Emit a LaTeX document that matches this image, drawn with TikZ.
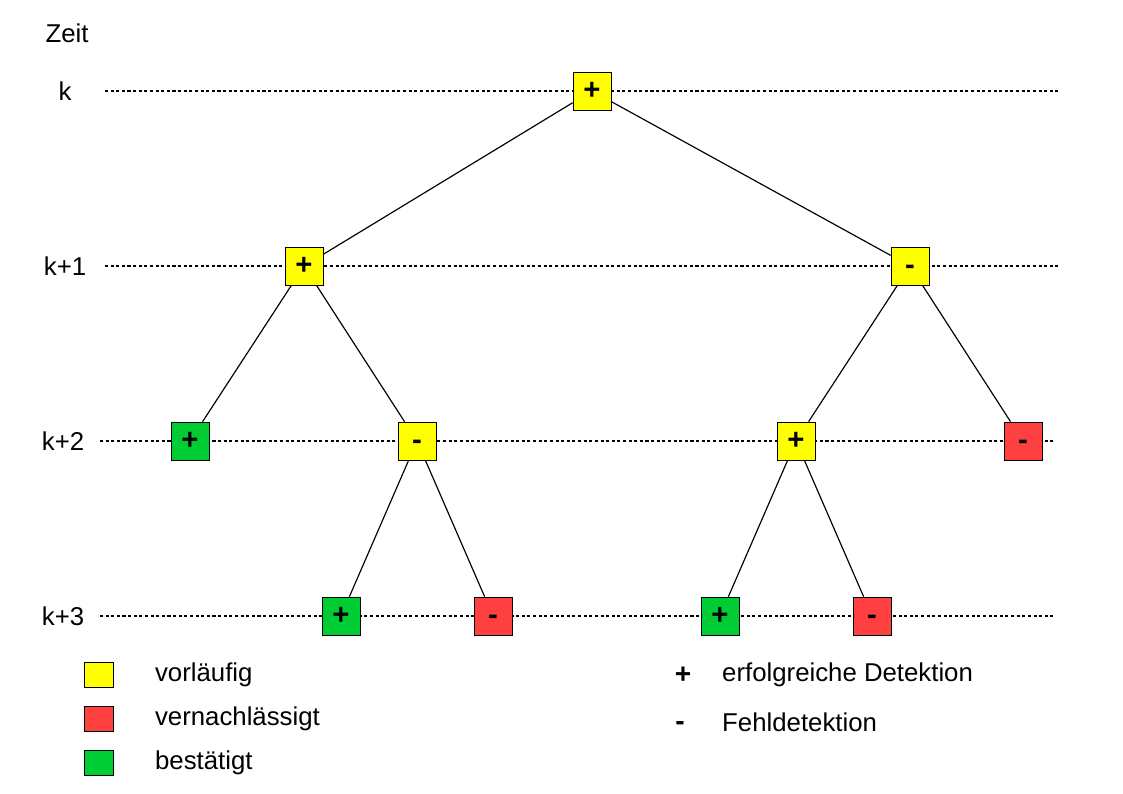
\documentclass[tikz,border=0pt]{standalone}
\usepackage{fontspec}
\setmainfont{Liberation Sans}
\usepackage{xcolor}
\usepackage{tikz}
\usetikzlibrary{positioning}
\definecolor{tentyellow}{RGB}{255,255,0}
\definecolor{dropred}{RGB}{255,64,64}
\definecolor{confgreen}{RGB}{0,204,51}

\begin{document}
\begin{tikzpicture}[
    x=0.03cm, y=-0.03cm,
    node distance=0.54cm,
    hyp/.style={rectangle, draw, line width=0.6pt, minimum width=1.14cm, minimum height=1.14cm, inner sep=0pt, text height=15pt, text depth=0pt, font=\fontsize{25}{25}\selectfont\bfseries},
    legbox/.style={rectangle, draw, line width=0.6pt, minimum width=0.87cm, minimum height=0.75cm, inner sep=0pt},
    legsym/.style={inner sep=0pt, text height=14.5pt, text depth=0pt, font=\fontsize{24}{24}\selectfont\bfseries},
    timeline/.style={dash pattern=on 2.6pt off 2.2pt, line width=0.9pt},
    edge/.style={line width=1pt},
    lbl/.style={font=\fontsize{22}{24}\selectfont, inner sep=0pt}
]
\useasboundingbox (0,0) rectangle (1123,794);

% === TIME AXIS ===
\node[lbl] (zeit) at (67,33) {Zeit};
\node[lbl] (t0) at (65,91) {k};
\node[lbl] (t1) at (65,266) {k+1};
\node[lbl] (t2) at (63,441) {k+2};
\node[lbl] (t3) at (63,616) {k+3};

\coordinate (l0) at (105,91);  \coordinate (r0) at (1060,91);
\coordinate (l1) at (105,266); \coordinate (r1) at (1060,266);
\coordinate (l2) at (100,441); \coordinate (r2) at (1055,441);
\coordinate (l3) at (100,616); \coordinate (r3) at (1055,616);
\foreach \i in {0,...,3}
    \draw[timeline] (l\i) -- (r\i);

% === HYPOTHESIS TREE ===
\node[hyp, fill=tentyellow] (root) at (592,91) {+};

\node[hyp, fill=tentyellow] (a) at (304,266) {+};
\node[hyp, fill=tentyellow] (b) at (910,266) {-};

\node[hyp, fill=confgreen] (aa) at (190,441) {+};
\node[hyp, fill=tentyellow] (ab) at (417,441) {-};
\node[hyp, fill=tentyellow] (ba) at (796,441) {+};
\node[hyp, fill=dropred] (bb) at (1023,441) {-};

\node[hyp, fill=confgreen] (aba) at (341,616) {+};
\node[hyp, fill=dropred] (abb) at (493,616) {-};
\node[hyp, fill=confgreen] (baa) at (720,616) {+};
\node[hyp, fill=dropred] (bab) at (872,616) {-};

\draw[edge] (root) -- (a);
\draw[edge] (root) -- (b);
\draw[edge] (a) -- (aa);
\draw[edge] (a) -- (ab);
\draw[edge] (b) -- (ba);
\draw[edge] (b) -- (bb);
\draw[edge] (ab) -- (aba);
\draw[edge] (ab) -- (abb);
\draw[edge] (ba) -- (baa);
\draw[edge] (ba) -- (bab);

% === LEGEND ===
\node[legbox, fill=tentyellow] (leg_yellow) at (99,675) {};
\node[legbox, fill=dropred, below=of leg_yellow] (leg_red) {};
\node[legbox, fill=confgreen, below=of leg_red] (leg_green) {};
\node[lbl, right=1.23cm of leg_yellow] (txt_yellow) {vorläufig};
\node[lbl, right=1.23cm of leg_red] (txt_red) {vernachlässigt};
\node[lbl, right=1.23cm of leg_green] (txt_green) {bestätigt};

\node[legsym] (sym_plus) at (683,675) {+};
\node[legsym] (sym_minus) at (680,722) {-};
\node[lbl, anchor=west] (txt_plus) at (722,675) {erfolgreiche Detektion};
\node[lbl, anchor=west] (txt_minus) at (722,722) {Fehldetektion};

\end{tikzpicture}
\end{document}
